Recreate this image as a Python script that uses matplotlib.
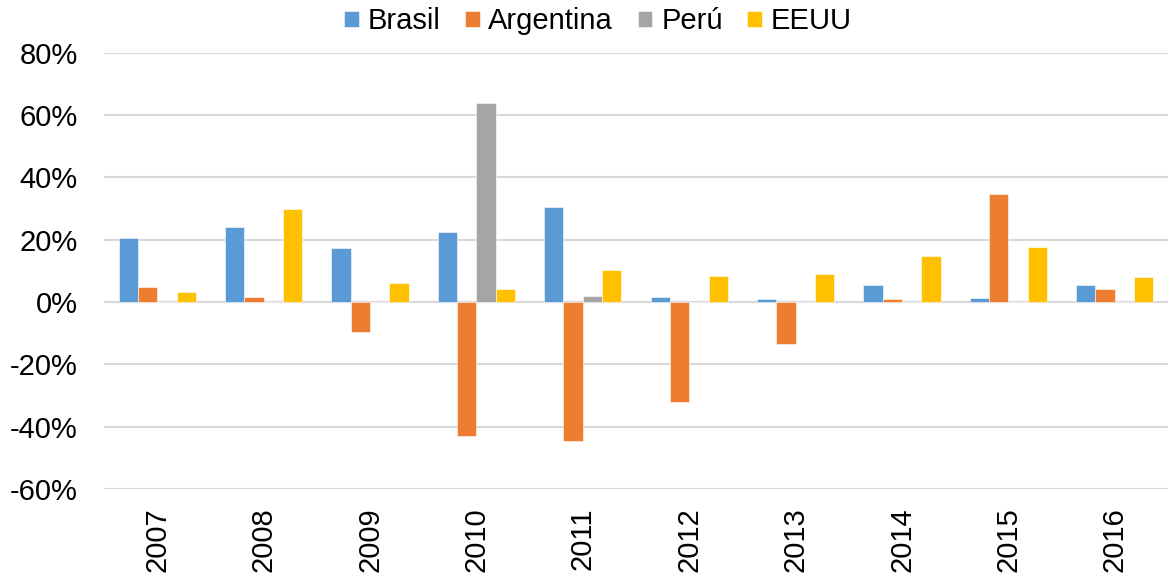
import numpy as np
import matplotlib.pyplot as plt
from matplotlib.ticker import FuncFormatter

plt.rcParams['font.family'] = ['Liberation Sans', 'DejaVu Sans']

years = ['2007', '2008', '2009', '2010', '2011', '2012', '2013', '2014', '2015', '2016']
series = ['Brasil', 'Argentina', 'Perú', 'EEUU']
brasil = [20.5, 24.2, 17.4, 22.5, 30.6, 1.6, 0.9, 5.5, 1.4, 5.3]
argentina = [4.7, 1.5, -9.7, -42.9, -44.5, -32.0, -13.5, 1.0, 34.8, 4.2]
peru = [0, 0, 0, 63.9, 1.8, 0, 0, 0, 0, 0]
eeuu = [3.2, 30.0, 6.0, 4.2, 10.2, 8.4, 9.1, 14.7, 17.7, 8.0]
colors = ['#5B9BD5', '#ED7D31', '#A5A5A5', '#FFC000']

fig = plt.figure(figsize=(11.7, 5.73), dpi=100)
ax = fig.add_axes([104/1170, 1-489/573, (1168-104)/1170, (489-52.7)/573])

x = np.arange(len(years))
w = 1/5.5
for i, (vals, name) in enumerate(zip([brasil, argentina, peru, eeuu], series)):
    ax.bar(x + (i - 1.5)*w, vals, w, color=colors[i], label=name,
           edgecolor='white', linewidth=0.4, zorder=3)

ax.set_xlim(-0.5, len(years) - 0.5)
ax.set_ylim(-60, 80)
ax.set_yticks(np.arange(-60, 81, 20))
ax.yaxis.set_major_formatter(FuncFormatter(lambda v, p: f'{v:.0f}%'))
ax.grid(axis='y', color='#d9d9d9', linewidth=1.5, zorder=0)
ax.axhline(0, color='#d9d9d9', linewidth=1.5, zorder=2)
for s in ax.spines.values():
    s.set_visible(False)
ax.set_xticks(x)
ax.set_xticklabels(years, rotation=90)
ax.tick_params(axis='both', length=0, labelsize=21, colors='black')
ax.tick_params(axis='y', pad=19)
ax.tick_params(axis='x', pad=13)

fig.legend(loc='center', bbox_to_anchor=(0.511, 0.963), ncol=4, frameon=False,
           fontsize=21, handlelength=0.5, handleheight=0.5,
           handletextpad=0.3, columnspacing=0.85, borderpad=0)

fig.savefig('out.png', dpi=100)
